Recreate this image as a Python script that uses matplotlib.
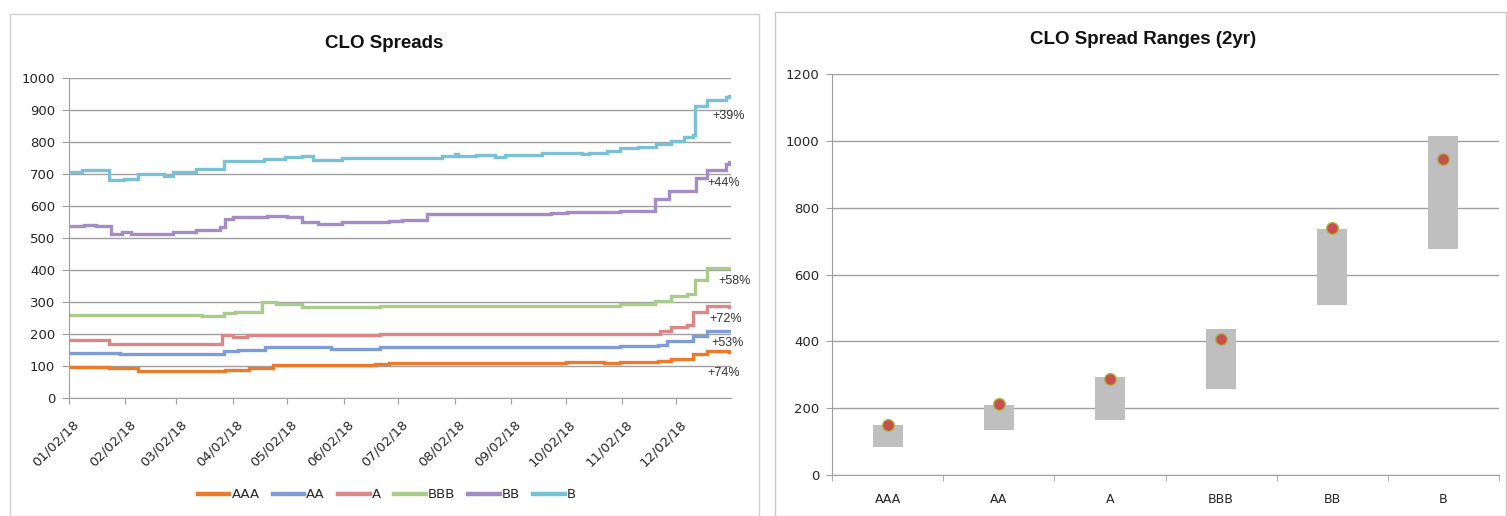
import numpy as np
import pandas as pd
import matplotlib
matplotlib.use('Agg')
import matplotlib.pyplot as plt
import matplotlib.dates as mdates
import matplotlib.transforms as mtransforms
from matplotlib import font_manager
from matplotlib.patches import Rectangle

# ---- data (step points: value holds from date on) ----
ratings = ['AAA', 'AA', 'A', 'BBB', 'BB', 'B']

aaa_dates = ['2018-01-02', '2018-01-24', '2018-02-09', '2018-03-29', '2018-04-11', '2018-04-24',
             '2018-06-19', '2018-06-27', '2018-10-02', '2018-10-23', '2018-11-01', '2018-11-22',
             '2018-11-29', '2018-12-11', '2018-12-19', '2018-12-27', '2018-12-31']
aaa_vals = [97, 93, 84, 89, 94, 102, 106, 108, 113, 108, 113, 117, 122, 137, 148, 146, 144]

aa_dates = ['2018-01-02', '2018-01-30', '2018-03-28', '2018-04-05', '2018-04-20', '2018-05-26',
            '2018-06-22', '2018-11-01', '2018-11-22', '2018-11-27', '2018-12-11', '2018-12-19',
            '2018-12-31']
aa_vals = [141, 136, 146, 149, 158, 153, 158, 164, 167, 177, 195, 208, 208]

a_dates = ['2018-01-02', '2018-01-24', '2018-03-27', '2018-04-02', '2018-04-10', '2018-06-22',
           '2018-11-23', '2018-11-29', '2018-12-08', '2018-12-11', '2018-12-19', '2018-12-28',
           '2018-12-31']
a_vals = [180, 169, 196, 192, 197, 201, 208, 222, 227, 269, 289, 286, 283]

bbb_dates = ['2018-01-02', '2018-03-16', '2018-03-28', '2018-04-03', '2018-04-18', '2018-04-26',
             '2018-05-10', '2018-06-22', '2018-11-01', '2018-11-20', '2018-11-29', '2018-12-08',
             '2018-12-12', '2018-12-19', '2018-12-31']
bbb_vals = [260, 256, 266, 269, 299, 295, 284, 289, 294, 302, 318, 325, 370, 406, 406]

bb_dates = ['2018-01-02', '2018-01-10', '2018-01-17', '2018-01-25', '2018-01-31', '2018-02-05',
            '2018-02-28', '2018-03-04', '2018-03-13', '2018-03-26', '2018-03-29', '2018-04-02',
            '2018-04-21', '2018-05-02', '2018-05-10', '2018-05-19', '2018-06-01', '2018-06-27',
            '2018-07-04', '2018-07-18', '2018-09-24', '2018-10-03', '2018-11-01', '2018-11-20',
            '2018-11-28', '2018-12-13', '2018-12-19', '2018-12-29', '2018-12-31']
bb_vals = [536, 542, 536, 512, 518, 513, 520, 518, 524, 534, 559, 565, 570, 566, 549, 544,
           549, 553, 556, 574, 578, 581, 585, 623, 647, 688, 712, 730, 736]

b_dates = ['2018-01-02', '2018-01-09', '2018-01-24', '2018-02-01', '2018-02-09', '2018-02-23',
           '2018-02-28', '2018-03-13', '2018-03-28', '2018-04-19', '2018-05-01', '2018-05-10',
           '2018-05-16', '2018-06-01', '2018-06-07', '2018-07-26', '2018-08-02', '2018-08-04',
           '2018-08-14', '2018-08-24', '2018-08-30', '2018-09-19', '2018-10-11', '2018-10-15',
           '2018-10-25', '2018-11-01', '2018-11-11', '2018-11-21', '2018-11-29', '2018-12-06',
           '2018-12-11', '2018-12-12', '2018-12-19', '2018-12-24', '2018-12-29', '2018-12-31']
b_vals = [707, 712, 680, 684, 699, 695, 707, 716, 740, 747, 752, 756, 745, 749, 751, 756,
          761, 755, 760, 754, 759, 765, 761, 765, 771, 780, 784, 794, 802, 815, 823, 911,
          930, 932, 940, 945]

pct_labels = ['+74%', '+53%', '+72%', '+58%', '+44%', '+39%']
pct_dates = ['2018-12-19', '2018-12-21', '2018-12-20', '2018-12-25', '2018-12-19', '2018-12-22']
pct_vals = [79, 171, 246, 366, 671, 882]

tick_dates = ['2018-01-02', '2018-02-02', '2018-03-02', '2018-04-02', '2018-05-02', '2018-06-02',
              '2018-07-02', '2018-08-02', '2018-09-02', '2018-10-02', '2018-11-02', '2018-12-02']

# 2yr ranges (right chart)
range_low = [85, 135, 165, 257, 510, 677]
range_high = [149, 210, 293, 437, 735, 1013]
range_now = [150, 211, 286, 406, 739, 946]

colors = ['#EA7A2C', '#7E9DD7', '#D9888A', '#AACC8A', '#A48CC5', '#7BC1D6']
grid_c = '#A0A0A0'
txt_c = '#262626'

names = [f.name for f in font_manager.fontManager.ttflist]
narrow = 'Liberation Sans Narrow' if 'Liberation Sans Narrow' in names else 'Liberation Sans'
plt.rcParams['font.family'] = ['DejaVu Sans']

series = [(aaa_dates, aaa_vals), (aa_dates, aa_vals), (a_dates, a_vals),
          (bbb_dates, bbb_vals), (bb_dates, bb_vals), (b_dates, b_vals)]

fig = plt.figure(figsize=(15.07, 5.16), dpi=100)
W, H = 1507.0, 516.0

# panel borders
fig.patches.append(Rectangle((10 / W, 0), 749 / W, (H - 14) / H, transform=fig.transFigure,
                             fill=False, ec='#D0D0D0', lw=1))
fig.patches.append(Rectangle((775 / W, 0), 731 / W, (H - 12) / H, transform=fig.transFigure,
                             fill=False, ec='#C8C8C8', lw=1))

# ---------------- left: CLO Spreads ----------------
ax = fig.add_axes([69 / W, 118 / H, 662 / W, 320 / H])
for (d, v), name, c in zip(series, ratings, colors):
    ax.plot(pd.to_datetime(d), v, drawstyle='steps-post', color=c, lw=2.4, label=name,
            solid_joinstyle='miter')

for lab, d, v in zip(pct_labels, pct_dates, pct_vals):
    ax.text(pd.Timestamp(d), v, lab, fontsize=9, family='Liberation Sans', color='#333333',
            ha='left', va='center')

ax.set_xlim(pd.Timestamp('2018-01-02'), pd.Timestamp('2019-01-01'))
ax.set_ylim(0, 1000)
ax.set_yticks(np.arange(0, 1001, 100))
ax.set_xticks(pd.to_datetime(tick_dates))
ax.xaxis.set_major_formatter(mdates.DateFormatter('%m/%d/%y'))
ax.grid(axis='y', color=grid_c, lw=1)
ax.set_axisbelow(True)
for s in ['top', 'right']:
    ax.spines[s].set_visible(False)
for s in ['left', 'bottom']:
    ax.spines[s].set_color(grid_c)
ax.tick_params(axis='y', length=5, color=grid_c, labelsize=9.5, pad=5, labelcolor=txt_c)
ax.tick_params(axis='x', length=4, color=grid_c, labelsize=9.5, pad=2, labelcolor=txt_c)
offset = mtransforms.ScaledTranslation(0.08, -0.16, fig.dpi_scale_trans)
for t in ax.get_xticklabels():
    t.set_rotation(45)
    t.set_ha('right')
    t.set_va('center')
    t.set_rotation_mode('anchor')
    t.set_transform(t.get_transform() + offset)
fig.text(384.5 / W, 1 - 43 / H, 'CLO Spreads', fontsize=13.5, fontweight='bold',
         family=narrow, ha='center', va='center', color='#111111')

leg = ax.legend(ncol=6, frameon=False, loc='center', bbox_to_anchor=(387 / W, 21 / H),
                bbox_transform=fig.transFigure, fontsize=9.5, handlelength=2.4,
                handletextpad=0.15, columnspacing=1.0)
for h in leg.get_lines():
    h.set_linewidth(3.2)
for t in leg.get_texts():
    t.set_color(txt_c)

# ---------------- right: CLO Spread Ranges ----------------
ax2 = fig.add_axes([832 / W, 41 / H, 667 / W, 401 / H])
x = np.arange(len(ratings))
ax2.bar(x, np.array(range_high) - np.array(range_low), bottom=range_low, width=0.27,
        color='#BFBFBF', zorder=2)
ax2.plot(x, range_now, 'o', ms=8.5, mfc='#C9504A', mec='#A9B84F', mew=1, zorder=3)
ax2.set_xlim(-0.5, len(ratings) - 0.5)
ax2.set_ylim(0, 1200)
ax2.set_yticks(np.arange(0, 1201, 200))
ax2.set_xticks(x)
ax2.set_xticklabels(ratings)
ax2.set_xticks(np.arange(-0.5, len(ratings)), minor=True)
ax2.grid(axis='y', color=grid_c, lw=1)
ax2.set_axisbelow(True)
for s in ['top', 'right']:
    ax2.spines[s].set_visible(False)
for s in ['left', 'bottom']:
    ax2.spines[s].set_color(grid_c)
ax2.tick_params(axis='y', length=4, color=grid_c, labelsize=9.5, pad=5, labelcolor=txt_c)
ax2.tick_params(axis='x', which='major', length=0, labelsize=9, pad=13, labelcolor=txt_c)
ax2.tick_params(axis='x', which='minor', length=4, color=grid_c)
fig.text(1143 / W, 1 - 40 / H, 'CLO Spread Ranges (2yr)', fontsize=13.5, fontweight='bold',
         family=narrow, ha='center', va='center', color='#111111')

fig.savefig('out.png', dpi=100)
